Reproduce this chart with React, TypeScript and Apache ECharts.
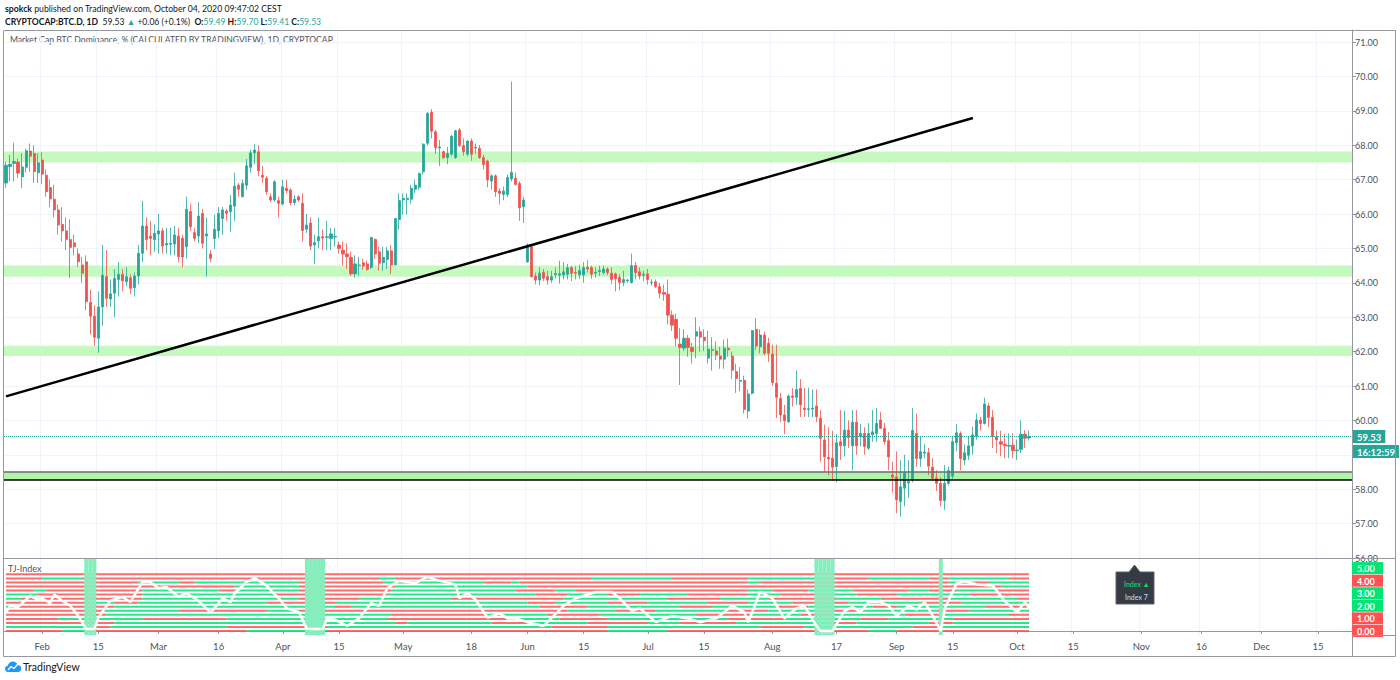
import React, { useEffect, useRef } from 'react';
import * as echarts from 'echarts';

const FONT = 'Lato, "Open Sans", sans-serif';

// ---------- axis / dates ----------
const START_DATE = '2020-01-23';
const DAY_COUNT = 336;

const TICK_DATES = [
  '2020-02-01', '2020-02-15', '2020-03-01', '2020-03-16', '2020-04-01', '2020-04-15',
  '2020-05-01', '2020-05-18', '2020-06-01', '2020-06-15', '2020-07-01', '2020-07-15',
  '2020-08-01', '2020-08-17', '2020-09-01', '2020-09-15', '2020-10-01', '2020-10-15',
  '2020-11-01', '2020-11-16', '2020-12-01', '2020-12-15',
];
const TICK_LABELS = [
  'Feb', '15', 'Mar', '16', 'Apr', '15', 'May', '18', 'Jun', '15', 'Jul', '15',
  'Aug', '17', 'Sep', '15', 'Oct', '15', 'Nov', '16', 'Dec', '15',
];
// price-axis label hidden behind the countdown box in the reference
const HIDDEN_PRICE_LABELS = [59];

// ---------- candles: [open, close, low, high] ----------
const JAN = [
  [66.9, 67.42, 66.76, 67.52], [67.38, 67.45, 66.95, 67.72], [67.47, 67.53, 66.95, 68.07],
  [67.51, 67.19, 67.05, 67.62], [67.08, 67.37, 66.76, 67.77], [67.36, 67.84, 67.2, 67.9],
  [67.83, 67.68, 67.22, 68.05], [67.76, 67.23, 66.9, 68.0], [67.2, 67.49, 66.9, 67.77],
];
const FEB = [
  [67.57, 67.16, 66.87, 67.8], [67.13, 66.65, 66.5, 67.3], [66.77, 66.44, 66.2, 67.0],
  [66.43, 66.12, 65.9, 66.85], [66.12, 65.68, 65.4, 66.28], [65.7, 65.51, 65.2, 66.2],
  [65.51, 65.26, 64.95, 65.9], [65.26, 65.03, 64.14, 65.85], [65.16, 65.05, 64.8, 65.4],
  [64.84, 64.61, 64.46, 65.0], [64.52, 64.28, 64.0, 64.75], [64.61, 63.45, 63.2, 64.8],
  [63.43, 63.03, 62.5, 63.8], [63.03, 62.42, 62.17, 63.35], [62.39, 63.3, 61.97, 63.75],
  [63.3, 64.22, 62.75, 65.1], [64.18, 63.55, 63.3, 64.95], [63.53, 63.68, 63.3, 64.1],
  [63.7, 64.13, 63.0, 64.4], [64.1, 64.25, 63.6, 64.6], [64.25, 64.06, 63.75, 64.4],
  [64.03, 64.18, 63.9, 64.45], [64.15, 63.84, 63.67, 64.25], [63.86, 64.2, 63.6, 64.3],
  [64.2, 64.86, 63.95, 65.1], [64.86, 65.65, 64.6, 66.38], [65.65, 65.26, 64.95, 65.9],
  [65.36, 65.29, 64.8, 65.8], [65.26, 65.44, 64.9, 65.7],
];
const MAR = [
  [65.42, 65.51, 64.85, 66.0], [65.51, 65.07, 64.85, 65.6], [65.1, 65.14, 64.85, 65.6],
  [65.12, 65.15, 64.8, 65.6], [65.13, 65.39, 64.8, 65.65], [65.36, 64.76, 64.6, 65.6],
  [65.3, 64.75, 64.45, 65.4], [65.05, 66.14, 64.7, 66.5], [66.07, 65.63, 65.5, 66.3],
  [65.46, 65.29, 65.2, 65.6], [65.36, 65.94, 65.15, 66.35], [66.02, 65.15, 65.0, 66.15],
  [65.36, 65.42, 64.18, 65.9], [64.84, 64.71, 64.6, 64.95], [65.29, 65.56, 64.98, 65.98],
  [65.51, 66.02, 65.3, 66.2], [65.87, 66.12, 65.4, 66.2], [66.09, 66.02, 65.8, 66.15],
  [66.07, 66.26, 65.49, 66.55], [66.23, 66.81, 65.8, 67.2], [66.84, 66.72, 66.5, 66.9],
  [66.5, 66.89, 66.5, 67.0], [66.84, 67.4, 66.7, 67.6], [67.36, 67.78, 67.2, 67.87],
  [67.78, 67.86, 67.45, 68.03], [67.81, 67.26, 67.1, 68.0], [67.13, 67.07, 66.9, 67.4],
  [67.04, 66.65, 66.55, 67.1], [66.5, 66.41, 66.35, 66.6], [66.41, 66.94, 66.35, 66.98],
  [66.39, 66.31, 65.9, 66.5],
];
const APR = [
  [66.29, 66.79, 66.25, 67.0], [66.75, 66.68, 66.6, 67.0], [66.7, 66.33, 66.25, 66.75],
  [66.33, 66.43, 66.25, 66.55], [66.5, 66.41, 66.35, 66.55], [66.31, 65.52, 65.2, 66.6],
  [65.56, 65.68, 65.45, 66.0], [65.74, 65.07, 64.95, 65.9], [65.1, 65.17, 64.55, 65.4],
  [65.22, 65.34, 65.0, 65.9], [65.34, 65.3, 64.95, 65.55], [65.32, 65.34, 64.95, 65.8],
  [65.29, 65.42, 64.95, 65.6], [65.33, 65.35, 65.05, 65.6], [65.1, 65.0, 64.85, 65.2],
  [64.95, 64.84, 64.5, 65.2], [64.84, 64.76, 64.4, 65.15], [64.74, 64.26, 64.2, 64.9],
  [64.26, 64.55, 64.15, 64.8], [64.5, 64.52, 64.2, 64.75], [64.58, 64.49, 64.38, 64.7],
  [64.55, 64.39, 64.35, 64.65], [64.45, 65.32, 64.4, 65.34], [65.26, 64.84, 64.7, 65.3],
  [64.9, 64.57, 64.35, 65.05], [64.58, 64.74, 64.35, 65.05], [64.68, 64.93, 64.4, 65.05],
  [64.93, 64.52, 64.25, 65.1], [64.52, 65.87, 64.52, 65.87], [65.84, 66.39, 65.55, 66.6],
];
const MAY = [
  [66.41, 66.46, 65.98, 66.6], [66.42, 66.46, 65.98, 66.6], [66.43, 66.75, 66.3, 66.85],
  [66.72, 66.84, 66.6, 67.0], [66.78, 67.18, 66.7, 67.2], [67.23, 68.03, 67.15, 68.06],
  [68.06, 68.93, 68.0, 68.96], [68.96, 68.41, 68.2, 69.05], [68.39, 67.93, 67.75, 68.45],
  [67.92, 67.95, 67.4, 68.15], [67.81, 67.64, 67.6, 67.85], [67.64, 67.76, 67.45, 67.95],
  [67.74, 68.26, 67.68, 68.3], [67.64, 68.42, 67.6, 68.45], [68.44, 67.99, 67.95, 68.5],
  [67.99, 67.81, 67.7, 68.2], [67.74, 68.12, 67.68, 68.15], [68.12, 67.74, 67.55, 68.2],
  [67.92, 67.94, 67.75, 68.05], [67.91, 67.64, 67.6, 68.0], [67.64, 67.44, 67.3, 67.72],
  [67.54, 66.99, 66.78, 67.58], [66.96, 67.11, 66.7, 67.15], [67.11, 66.65, 66.5, 67.15],
  [66.67, 66.6, 66.28, 66.75], [66.57, 66.67, 66.4, 66.8], [66.57, 67.06, 66.5, 67.15],
  [67.02, 67.21, 66.95, 69.85], [67.04, 66.86, 66.83, 67.2], [66.89, 66.18, 65.8, 66.95],
  [66.21, 66.41, 65.74, 66.5],
];
const JUN = [
  [64.61, 65.1, 64.58, 65.15], [65.05, 64.18, 64.15, 65.1], [64.2, 64.08, 63.95, 64.3],
  [64.08, 64.28, 63.93, 64.45], [64.31, 64.13, 64.05, 64.4], [64.18, 64.08, 63.95, 64.35],
  [64.08, 64.18, 64.0, 64.35], [64.24, 64.27, 64.12, 64.45], [64.22, 64.26, 63.98, 64.64],
  [64.23, 64.32, 64.1, 64.6], [64.25, 64.44, 64.1, 64.55], [64.44, 64.28, 64.05, 64.5],
  [64.3, 64.28, 64.1, 64.48], [64.23, 64.36, 64.12, 64.53], [64.23, 64.44, 64.0, 64.6],
  [64.45, 64.4, 64.3, 64.66], [64.44, 64.25, 64.12, 64.5], [64.28, 64.3, 64.15, 64.45],
  [64.33, 64.36, 64.2, 64.5], [64.3, 64.4, 64.25, 64.5], [64.4, 64.3, 64.22, 64.45],
  [64.28, 64.1, 63.97, 64.45], [64.26, 64.12, 63.75, 64.3], [64.16, 64.01, 63.78, 64.25],
  [64.01, 64.1, 63.9, 64.35], [64.06, 64.08, 64.0, 64.12], [64.01, 64.5, 63.98, 64.85],
  [64.5, 64.3, 64.1, 64.6], [64.32, 64.2, 64.1, 64.45], [64.22, 64.25, 64.05, 64.35],
];
const JUL = [
  [64.26, 64.1, 63.95, 64.4], [64.0, 64.02, 63.92, 64.1], [64.03, 63.89, 63.85, 64.1],
  [63.89, 63.7, 63.55, 64.0], [63.72, 63.67, 63.48, 63.95], [63.67, 63.06, 62.8, 64.1],
  [63.06, 62.77, 62.6, 63.2], [62.94, 62.39, 62.15, 63.1], [62.22, 62.12, 61.03, 62.68],
  [62.1, 62.39, 62.02, 62.65], [62.39, 62.12, 61.85, 62.48], [62.12, 62.0, 61.65, 62.25],
  [62.45, 62.58, 61.8, 63.0], [62.58, 62.42, 62.0, 62.72], [62.42, 62.32, 62.02, 62.65],
  [61.81, 62.07, 61.65, 62.6], [62.04, 62.06, 61.45, 62.42], [62.02, 61.9, 61.75, 62.3],
  [61.87, 61.78, 61.5, 62.14], [61.78, 62.1, 61.5, 62.35], [62.1, 62.05, 61.85, 62.38],
  [61.87, 61.46, 61.2, 62.0], [61.42, 61.22, 60.8, 61.65], [61.14, 61.16, 60.85, 61.55],
  [61.17, 60.32, 60.2, 61.3], [60.27, 60.77, 60.05, 60.9], [60.79, 62.61, 60.75, 62.63],
  [62.65, 62.16, 62.05, 62.97], [62.14, 62.48, 61.95, 62.65], [62.48, 61.95, 61.9, 62.58],
  [62.24, 61.95, 61.7, 62.4],
];
const AUG = [
  [61.93, 61.1, 61.0, 62.2], [61.08, 60.67, 60.07, 62.2], [60.64, 60.16, 59.95, 60.8],
  [60.16, 59.99, 59.6, 60.45], [59.96, 60.71, 59.93, 60.75], [60.71, 60.67, 60.4, 60.93],
  [60.67, 60.9, 60.45, 61.45], [60.93, 60.45, 60.1, 61.2], [60.35, 60.31, 60.1, 60.95],
  [60.32, 60.34, 60.1, 60.95], [60.33, 60.36, 60.1, 60.9], [60.42, 60.11, 59.95, 60.9],
  [60.06, 59.48, 58.8, 60.3], [59.43, 58.94, 58.5, 59.88], [58.92, 58.88, 58.4, 59.8],
  [58.9, 58.64, 58.25, 59.7], [58.66, 59.35, 58.2, 59.6], [59.38, 59.26, 58.85, 60.3],
  [59.26, 59.72, 58.95, 60.28], [59.72, 59.5, 59.2, 60.0], [59.26, 59.95, 58.55, 60.3],
  [59.95, 59.26, 59.0, 60.3], [59.53, 59.62, 59.25, 59.9], [59.62, 59.24, 59.0, 59.8],
  [59.19, 59.62, 59.14, 59.92], [59.58, 59.67, 59.38, 60.3], [59.62, 59.91, 59.38, 60.36],
  [60.01, 59.77, 59.75, 60.25], [59.77, 59.38, 59.3, 59.92], [59.41, 58.94, 58.55, 59.66],
  [58.41, 58.35, 57.9, 58.8],
];
const SEP = [
  [58.35, 57.69, 57.3, 59.1], [57.64, 58.07, 57.2, 58.85], [58.03, 58.47, 57.5, 59.0],
  [58.18, 58.22, 57.75, 58.85], [58.27, 59.71, 58.2, 60.36], [59.62, 58.89, 58.65, 60.2],
  [58.89, 59.09, 58.65, 59.52], [59.05, 59.08, 58.9, 59.32], [59.06, 58.67, 58.4, 59.2],
  [58.64, 58.32, 58.25, 58.9], [58.32, 58.17, 57.95, 58.55], [58.17, 57.67, 57.5, 58.35],
  [57.67, 58.17, 57.4, 58.7], [58.17, 58.54, 58.1, 58.65], [58.38, 59.38, 58.3, 59.53],
  [59.35, 59.64, 59.1, 59.9], [59.62, 58.89, 58.55, 59.68], [58.85, 59.06, 58.7, 59.3],
  [58.99, 59.26, 58.85, 59.53], [59.26, 59.58, 59.0, 59.82], [59.53, 60.01, 59.44, 60.2],
  [60.01, 59.91, 59.7, 60.1], [59.91, 60.48, 59.88, 60.66], [60.42, 60.09, 59.8, 60.5],
  [60.09, 59.53, 59.2, 60.3], [59.53, 59.43, 59.05, 59.7], [59.38, 59.31, 58.96, 59.7],
  [59.31, 59.26, 58.9, 59.6], [59.25, 59.27, 58.9, 59.62], [59.28, 59.12, 58.9, 59.62],
];
const OCT = [
  [59.12, 59.14, 58.85, 59.45], [59.16, 59.6, 59.05, 60.0], [59.6, 59.48, 59.2, 59.72],
  [59.49, 59.53, 59.41, 59.7],
];

// ---------- drawings ----------
const LAST_PRICE = 59.53;
const LAST_TIMER = '16:12:59';
const ZONES = [
  [67.5, 67.82],
  [64.18, 64.5],
  [61.87, 62.17],
];
const SUPPORT_ZONE = [58.27, 58.5];
const TREND_LINE = [
  [0, 60.7],
  [241, 68.79],
];

// ---------- TJ-Index ----------
const TJ_LEVELS = [4.5, 4.18, 3.86, 3.54, 3.21, 2.89, 2.57, 2.25, 1.93, 1.61, 1.29, 0.96, 0.64, 0.32, 0.0];
const TJ_LINE_1 = [[0, 'r']];
const TJ_LINE_2 = [[0, 'r'], [9, 'g'], [19, 'r'], [93, 'g'], [97, 'r'], [146, 'g'], [166, 'r'], [185, 'g'], [203, 'r'], [215, 'g'], [230, 'r'], [235, 'g'], [250, 'r']];
const TJ_LINE_3 = [[0, 'r'], [33, 'g'], [43, 'r'], [47, 'g'], [73, 'r'], [94, 'g'], [119, 'r'], [126, 'g'], [128, 'r'], [185, 'g'], [188, 'r'], [235, 'g'], [237, 'r'], [245, 'g']];
const TJ_LINE_4 = [[0, 'r'], [57, 'g'], [73, 'r'], [97, 'g'], [130, 'r'], [248, 'g']];
const TJ_LINE_5 = [[0, 'r'], [7, 'g'], [10, 'r'], [34, 'g'], [53, 'r'], [57, 'g'], [73, 'r'], [96, 'g'], [127, 'r'], [137, 'g'], [142, 'r'], [185, 'g'], [191, 'r'], [200, 'g'], [211, 'r'], [225, 'g'], [230, 'r'], [237, 'g'], [247, 'r']];
const TJ_LINE_6 = [[0, 'g'], [8, 'r'], [34, 'g'], [67, 'r'], [95, 'g'], [132, 'r'], [140, 'g'], [150, 'r'], [158, 'g'], [170, 'r'], [185, 'g'], [193, 'r'], [205, 'g'], [212, 'r'], [222, 'g'], [240, 'r']];
const TJ_LINE_7 = [[0, 'g'], [4, 'r'], [34, 'g'], [73, 'r'], [88, 'g'], [111, 'r'], [139, 'g'], [165, 'r'], [178, 'g'], [190, 'r'], [207, 'g'], [218, 'r'], [235, 'g'], [252, 'r']];
const TJ_LINE_8 = [[0, 'r'], [21, 'g'], [27, 'r'], [33, 'g'], [65, 'r'], [82, 'g'], [130, 'r'], [137, 'g'], [150, 'r'], [160, 'g'], [175, 'r'], [185, 'g'], [196, 'r'], [210, 'g'], [228, 'r'], [238, 'g']];
const TJ_LINE_9 = [[0, 'g'], [2, 'r'], [27, 'g'], [82, 'r'], [86, 'g'], [133, 'r'], [145, 'g'], [168, 'r'], [176, 'g'], [192, 'r'], [200, 'g'], [216, 'r'], [222, 'g'], [244, 'r']];
const TJ_LINE_10 = [[0, 'r'], [24, 'g'], [43, 'r'], [65, 'g'], [73, 'r'], [140, 'g'], [152, 'r'], [162, 'g'], [180, 'r'], [190, 'g'], [203, 'r'], [214, 'g'], [232, 'r'], [240, 'g']];
const TJ_LINE_11 = [[0, 'r'], [25, 'g'], [96, 'r'], [120, 'g'], [135, 'r'], [148, 'g'], [172, 'r'], [186, 'g'], [198, 'r'], [206, 'g'], [224, 'r'], [234, 'g'], [250, 'r']];
const TJ_LINE_12 = [[0, 'r'], [13, 'g'], [34, 'r'], [55, 'g'], [95, 'r'], [128, 'g'], [138, 'r'], [150, 'g'], [180, 'r'], [194, 'g'], [213, 'r'], [220, 'g'], [236, 'r']];
const TJ_LINE_13 = [[0, 'r'], [27, 'g'], [97, 'r'], [100, 'g'], [121, 'r'], [130, 'g'], [145, 'r'], [160, 'g'], [168, 'r'], [182, 'g'], [205, 'r'], [212, 'g'], [230, 'r'], [236, 'g']];
const TJ_LINE_14 = [[0, 'g'], [20, 'r'], [26, 'g'], [55, 'r'], [80, 'g'], [136, 'r'], [150, 'g'], [188, 'r'], [199, 'g'], [226, 'r'], [233, 'g']];
const TJ_LINE_15 = [[0, 'r'], [14, 'g'], [20, 'r'], [60, 'g'], [80, 'r'], [150, 'g'], [165, 'r'], [215, 'g'], [222, 'r']];
const TJ_WHITE = [
  [0, 1.45], [1, 2.0], [3, 1.9], [6, 2.8], [8, 2.5], [9, 2.6], [11, 2.2], [12, 2.9], [14, 2.4], [16, 2.0], [18, 1.2],
  [20, 0.15], [22, 0.15], [23, 1.05], [26, 2.4], [29, 2.7], [31, 2.3], [34, 3.9], [36, 3.9], [38, 3.4], [40, 3.5],
  [43, 2.7], [45, 3.0], [48, 2.4], [51, 1.45], [54, 2.6], [56, 2.3], [57, 3.0], [60, 3.9], [62, 4.2], [65, 3.6],
  [67, 2.9], [68, 2.6], [70, 1.8], [73, 1.5], [75, 0.15], [79, 0.15], [80, 1.0], [82, 0.9], [85, 0.4],
  [88, 1.0], [91, 2.2], [93, 2.0], [95, 3.4], [98, 4.0], [102, 3.8], [105, 4.3], [108, 4.0], [112, 3.7], [113, 2.6],
  [115, 3.0], [117, 2.5], [120, 1.05], [123, 1.4], [125, 1.0], [127, 1.0], [130, 0.7], [134, 0.4], [139, 2.0], [142, 2.6],
  [147, 3.1], [151, 3.1], [153, 2.6], [156, 1.6], [158, 1.8], [162, 0.7], [166, 1.2], [170, 1.0],
  [173, 0.7], [177, 1.0], [181, 2.0], [184, 1.5], [185, 0.7], [187, 2.3], [188, 3.1],
  [191, 2.6], [194, 1.0], [197, 1.8], [199, 2.0], [202, 0.4], [203, 0.0], [206, 0.0],
  [209, 1.6], [211, 1.9], [213, 1.5], [215, 2.3], [218, 2.3], [220, 2.0], [222, 1.2], [225, 2.0],
  [227, 1.7], [229, 2.3], [231, 1.2], [233, 0.0], [234, 1.8], [237, 3.8], [239, 3.95], [242, 3.7], [246, 3.6], [249, 2.35],
  [252, 1.5], [254, 2.3], [255, 1.8],
];
const TJ_HIGHLIGHT_DAYS = [20, 21, 22, 75, 76, 77, 78, 79, 202, 203, 204, 205, 206, 233];
const TJ_AXIS_VALUES = [0, 1, 2, 3, 4, 5];
const TJ_AXIS_COLORS = ['r', 'r', 'g', 'g', 'r', 'g'];

// ---------- colours ----------
const UP = '#26a69a';
const DOWN = '#ef5350';
const TJ_RED = '#ff5252';
const TJ_GREEN = '#00e676';

// logo shape
const LOGO_D =
  'M3.2 12 C1.4 12 0 10.6 0 8.9 C0 7.3 1.2 6 2.8 5.8 C3.3 3.4 5.4 1.6 7.9 1.6 C10 1.6 11.8 2.9 12.6 4.7 C14.7 4.9 16.3 6.6 16.3 8.6 C16.3 10.5 14.8 12 12.9 12 Z';
let logoRegistered = false;
function registerLogo() {
  if (logoRegistered) return;
  echarts.graphic.registerShape('tvlogo', (echarts.graphic as any).extendPath(LOGO_D, {}));
  logoRegistered = true;
}

function buildOption() {
  const dates: string[] = [];
  const t0 = Date.parse(START_DATE + 'T00:00:00Z');
  for (let i = 0; i < DAY_COUNT; i++) dates.push(new Date(t0 + i * 86400000).toISOString().slice(0, 10));
  const tickMap: Record<string, string> = {};
  TICK_DATES.forEach((d, i) => (tickMap[d] = TICK_LABELS[i]));
  const isTick = (_i: number, v: string) => tickMap[v] !== undefined;

  const candles = [...JAN, ...FEB, ...MAR, ...APR, ...MAY, ...JUN, ...JUL, ...AUG, ...SEP, ...OCT];
  const n = candles.length;

  const tjLines = [
    TJ_LINE_1, TJ_LINE_2, TJ_LINE_3, TJ_LINE_4, TJ_LINE_5, TJ_LINE_6, TJ_LINE_7, TJ_LINE_8,
    TJ_LINE_9, TJ_LINE_10, TJ_LINE_11, TJ_LINE_12, TJ_LINE_13, TJ_LINE_14, TJ_LINE_15,
  ];
  const tjSeries: any[] = [];
  tjLines.forEach((segs: any[], li) => {
    const level = TJ_LEVELS[li];
    const red: (number | null)[] = new Array(n).fill(null);
    const green: (number | null)[] = new Array(n).fill(null);
    segs.forEach(([start, c]: [number, string], i: number) => {
      const end = i + 1 < segs.length ? segs[i + 1][0] : n - 1;
      const arr = c === 'r' ? red : green;
      for (let d = start; d <= end; d++) arr[d] = level;
    });
    [
      [red, TJ_RED],
      [green, TJ_GREEN],
    ].forEach(([data, color]) => {
      tjSeries.push({
        type: 'line',
        xAxisIndex: 1,
        yAxisIndex: 1,
        data,
        symbol: 'none',
        silent: true,
        connectNulls: false,
        lineStyle: { color, width: 2, opacity: 0.85 },
        z: 2,
      });
    });
  });

  const highlight = new Array(n).fill(null).map((_, i) => (TJ_HIGHLIGHT_DAYS.includes(i) ? 1 : null));

  const labelText = { fontFamily: FONT, fontSize: 9, color: '#4c525e' };
  const gridLine = { color: '#f0f3fa', width: 1 };

  const option: any = {
    animation: false,
    backgroundColor: '#ffffff',
    textStyle: { fontFamily: FONT },
    grid: [
      { left: 4, top: 30, width: 1348, height: 528 },
      { left: 4, top: 558, width: 1348, height: 77 },
    ],
    xAxis: [
      {
        type: 'category',
        gridIndex: 0,
        data: dates,
        boundaryGap: true,
        axisLine: { show: false },
        axisTick: { show: false },
        axisLabel: { show: false },
        splitLine: { show: true, interval: isTick, lineStyle: gridLine },
      },
      {
        type: 'category',
        gridIndex: 1,
        data: dates,
        boundaryGap: true,
        axisLine: { show: true, lineStyle: { color: '#9598a1', width: 1 } },
        axisTick: { show: true, interval: isTick, alignWithLabel: true, length: 3, lineStyle: { color: '#9598a1' } },
        axisLabel: { ...labelText, fontSize: 9.5, interval: isTick, margin: 6, formatter: (v: string) => tickMap[v] || '' },
        splitLine: { show: true, interval: isTick, lineStyle: gridLine },
      },
    ],
    yAxis: [
      {
        type: 'value',
        gridIndex: 0,
        position: 'right',
        min: 56,
        max: 71.35,
        interval: 1,
        axisLine: { show: true, lineStyle: { color: '#9598a1' } },
        axisTick: { show: true, length: 4, lineStyle: { color: '#9598a1' } },
        axisLabel: {
          ...labelText,
          margin: 3,
          showMaxLabel: false,
          formatter: (v: number) => (HIDDEN_PRICE_LABELS.includes(v) || v > 71 ? '' : v.toFixed(2)),
        },
        splitLine: { show: true, lineStyle: gridLine },
      },
      {
        type: 'value',
        gridIndex: 1,
        position: 'right',
        min: -0.32,
        max: 5.8,
        axisLine: { show: true, lineStyle: { color: '#9598a1' } },
        axisTick: { show: true, length: 3, customValues: TJ_AXIS_VALUES, lineStyle: { color: '#9598a1' } },
        axisLabel: {
          customValues: TJ_AXIS_VALUES,
          margin: 0,
          formatter: (v: number) => `{${TJ_AXIS_COLORS[TJ_AXIS_VALUES.indexOf(v)]}|${v.toFixed(2)}}`,
          rich: {
            g: { backgroundColor: TJ_GREEN, color: '#ffffff', fontFamily: FONT, fontSize: 9, fontWeight: 'bold', padding: [2, 4, 1, 5], width: 22 },
            r: { backgroundColor: TJ_RED, color: '#ffffff', fontFamily: FONT, fontSize: 9, fontWeight: 'bold', padding: [2, 4, 1, 5], width: 22 },
          },
        },
        splitLine: { show: false },
      },
      { type: 'value', gridIndex: 1, min: 0, max: 1, show: false },
    ],
    series: [
      {
        type: 'candlestick',
        name: 'BTC.D',
        xAxisIndex: 0,
        yAxisIndex: 0,
        data: candles,
        barWidth: 2.6,
        itemStyle: { color: UP, color0: DOWN, borderColor: UP, borderColor0: DOWN, borderWidth: 0.8 },
        z: 3,
        markArea: {
          silent: true,
          itemStyle: { color: '#c6f9c0' },
          data: [
            ...ZONES.map(([a, b]) => [{ yAxis: a }, { yAxis: b }]),
            [{ yAxis: SUPPORT_ZONE[0], itemStyle: { color: '#aef5a5' } }, { yAxis: SUPPORT_ZONE[1] }],
          ],
        },
        markLine: {
          silent: true,
          symbol: ['none', 'none'],
          data: [
            {
              yAxis: LAST_PRICE,
              lineStyle: { color: UP, type: 'dotted', width: 1 },
              label: {
                show: true,
                position: 'end',
                distance: 1,
                formatter: `{e| }\n{a|${LAST_PRICE.toFixed(2)}}\n{a|${LAST_TIMER}}`,
                rich: {
                  e: { fontSize: 9, lineHeight: 15, padding: 0 },
                  a: { backgroundColor: UP, color: '#ffffff', fontFamily: FONT, fontSize: 9.5, fontWeight: 'bold', padding: [2, 4, 1, 4], lineHeight: 15 },
                },
              },
            },
            { yAxis: SUPPORT_ZONE[1], lineStyle: { color: '#6d6a75', type: 'solid', width: 1.6 }, label: { show: false } },
            { yAxis: SUPPORT_ZONE[0], lineStyle: { color: '#000000', type: 'solid', width: 1.6 }, label: { show: false } },
          ],
        },
      },
      {
        type: 'line',
        name: 'trend',
        xAxisIndex: 0,
        yAxisIndex: 0,
        data: TREND_LINE,
        symbol: 'none',
        silent: true,
        lineStyle: { color: '#000000', width: 2.5 },
        z: 6,
      },
      ...tjSeries,
      {
        type: 'bar',
        xAxisIndex: 1,
        yAxisIndex: 2,
        data: highlight,
        barWidth: '100%',
        silent: true,
        itemStyle: { color: '#84efbd' },
        z: 3,
      },
      {
        type: 'line',
        xAxisIndex: 1,
        yAxisIndex: 1,
        data: TJ_WHITE,
        symbol: 'none',
        silent: true,
        lineStyle: { color: '#ffffff', width: 2.5 },
        z: 5,
      },
    ],
    graphic: [
      // frame
      { type: 'rect', shape: { x: 3.5, y: 30.5, width: 1392, height: 626 }, style: { fill: 'none', stroke: '#9598a1', lineWidth: 1 }, silent: true, z: 10 },
      { type: 'line', shape: { x1: 4, y1: 558.5, x2: 1396, y2: 558.5 }, style: { stroke: '#9598a1', lineWidth: 1.2 }, silent: true, z: 10 },
      { type: 'line', shape: { x1: 1352, y1: 635.5, x2: 1396, y2: 635.5 }, style: { stroke: '#9598a1', lineWidth: 1 }, silent: true, z: 10 },
      { type: 'line', shape: { x1: 1352.5, y1: 635, x2: 1352.5, y2: 657 }, style: { stroke: '#9598a1', lineWidth: 1 }, silent: true, z: 10 },
      // header
      {
        type: 'text', x: 5, y: 8, silent: true,
        style: {
          text: '{b|spokck}{n| published on TradingView.com, October 04, 2020 09:47:02 CEST}',
          verticalAlign: 'middle',
          rich: {
            b: { fontFamily: FONT, fontSize: 8.7, fontWeight: 'bold', fill: '#131722' },
            n: { fontFamily: FONT, fontSize: 8.7, fill: '#131722' },
          },
        },
      },
      {
        type: 'text', x: 5, y: 22, silent: true,
        style: {
          text: '{b|CRYPTOCAP:BTC.D, 1D}{n|  59.53 }{t|▲}{n| +0.06 (+0.1%)  }{b|O:}{t|59.49}{b| H:}{t|59.70}{b| L:}{t|59.41}{b| C:}{t|59.53}',
          verticalAlign: 'middle',
          rich: {
            b: { fontFamily: FONT, fontSize: 8.6, fontWeight: 'bold', fill: '#131722' },
            n: { fontFamily: FONT, fontSize: 8.6, fill: '#131722' },
            t: { fontFamily: FONT, fontSize: 8.6, fill: UP },
          },
        },
      },
      {
        type: 'text', x: 10, y: 40, silent: true,
        style: { text: 'Market Cap BTC Dominance, % (CALCULATED BY TRADINGVIEW), 1D, CRYPTOCAP', fontFamily: FONT, fontSize: 8.6, fill: '#50535e', verticalAlign: 'middle' },
      },
      {
        type: 'text', x: 8, y: 568, silent: true, z: 12,
        style: { text: 'TJ-Index', fontFamily: FONT, fontSize: 9, fill: '#50535e', verticalAlign: 'middle' },
      },
      // indicator info box
      {
        type: 'polygon', silent: true, z: 12,
        shape: { points: [[1116, 572], [1129, 572], [1134.5, 565], [1140, 572], [1154, 572], [1154, 604], [1116, 604]] },
        style: { fill: '#363a45', stroke: '#5d606b', lineWidth: 1 },
      },
      {
        type: 'text', x: 1124, y: 584, silent: true, z: 13,
        style: { text: 'Index ▲', fontFamily: FONT, fontSize: 7, fill: TJ_GREEN, verticalAlign: 'middle' },
      },
      {
        type: 'text', x: 1125, y: 597, silent: true, z: 13,
        style: { text: 'Index 7', fontFamily: FONT, fontSize: 7, fill: '#b3e5fc', verticalAlign: 'middle' },
      },
      // footer logo
      { type: 'tvlogo', x: 5, y: 660, scaleX: 1, scaleY: 1, silent: true, style: { fill: '#2196f3' } },
      {
        type: 'polyline', silent: true, z: 11,
        shape: { points: [[8, 670], [11, 666.5], [14, 668.5], [18, 664]] },
        style: { stroke: '#ffffff', lineWidth: 1.3, fill: 'none' },
      },
      {
        type: 'text', x: 23, y: 667, silent: true,
        style: { text: 'TradingView', fontFamily: FONT, fontSize: 10.5, fill: '#131722', verticalAlign: 'middle' },
      },
    ],
  };
  return option;
}

export default function App() {
  const ref = useRef<HTMLDivElement>(null);
  useEffect(() => {
    document.body.style.margin = '0';
    registerLogo();
    const chart = echarts.init(ref.current as HTMLDivElement, undefined, { renderer: 'svg' });
    chart.setOption(buildOption());
    return () => {
      chart.dispose();
    };
  }, []);
  return <div ref={ref} style={{ width: 1400, height: 680 }} />;
}
